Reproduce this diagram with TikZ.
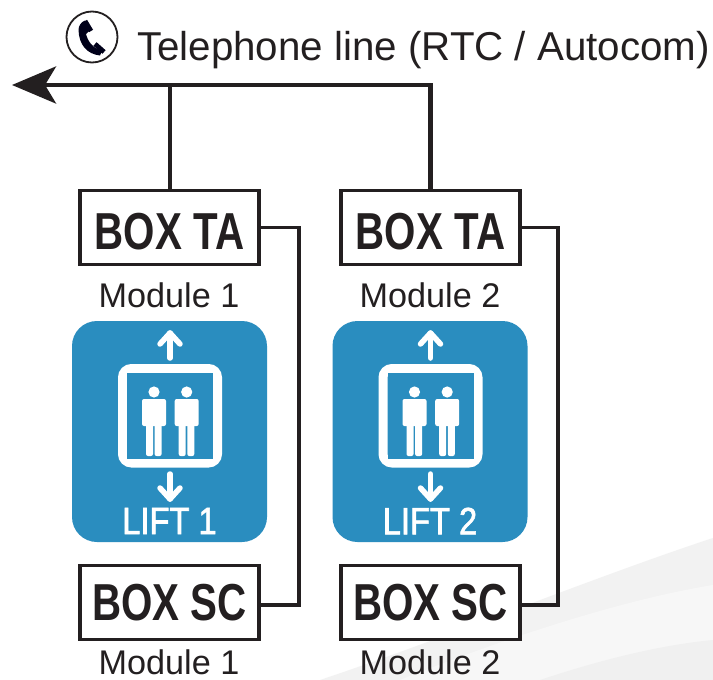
\documentclass[tikz,border=0pt]{standalone}
\usepackage{fontspec}
\setmainfont{Liberation Sans}
\newfontfamily\boxfont[FakeStretch=0.775]{Liberation Sans Bold}
\newfontfamily\liftfont[FakeStretch=0.86,FakeBold=1.6]{Liberation Sans}
\usetikzlibrary{arrows.meta,positioning}
\definecolor{ink}{HTML}{231F20}
\definecolor{liftblue}{HTML}{2A8DBF}
\tikzset{
  x=1pt,y=-1pt,
  boxnode/.style={draw=ink,line width=3.3pt,fill=white,minimum width=179pt,minimum height=74pt,inner sep=0pt,text=ink,font=\boxfont\fontsize{52}{52}\selectfont},
  modlabel/.style={text=ink,inner sep=0pt,font=\fontsize{34.2}{34.2}\selectfont},
  wire/.style={draw=ink,line width=3.3pt},
  trunk/.style={draw=ink,line width=4.6pt},
  panel/.style={fill=liftblue,rounded corners=25pt},
  liftlabel/.style={text=white,inner sep=0pt,font=\liftfont\fontsize{38}{38}\selectfont},
  whitestroke/.style={draw=white,line width=5.5pt,line cap=round,line join=round},
}
\newcommand{\liftpanel}[1]{%
  \fill[panel] (72,321) rectangle (267,542);
  \draw[white,line width=9pt,rounded corners=9pt] (122.5,368.5) rectangle (217.5,463);
  \fill[liftblue] (127,373) rectangle (213,459);
  \foreach \dx in {0,32.7}{
    \begin{scope}[xshift=\dx pt]
      \fill[white] (154,392) circle (5.6);
      \fill[white,rounded corners=2pt] (142,399) rectangle (166,426);
      \fill[white,rounded corners=2pt] (146,420) rectangle (153,456);
      \fill[white,rounded corners=2pt] (154.6,420) rectangle (161.6,456);
    \end{scope}
  }
  \draw[whitestroke] (170,358) -- (170,333);
  \draw[whitestroke] (160,344) -- (170,333) -- (180,344);
  \draw[whitestroke] (170,474) -- (170,499);
  \draw[whitestroke] (160,488) -- (170,499) -- (180,488);
  \node[liftlabel] (liftname#1) at (169.5,521) {LIFT #1};
}
\begin{document}
\begin{tikzpicture}
\useasboundingbox (0,0) rectangle (713,680);
\fill[white] (0,0) rectangle (713,680);
% background swoosh
\fill[black!5] (713,538) .. controls (600,575) and (440,640) .. (320,680) -- (713,680) -- cycle;
\fill[black!3] (713,585) .. controls (620,600) and (500,640) .. (400,680) -- (713,680) -- cycle;
\fill[black!6] (713,640) .. controls (660,645) and (600,660) .. (540,680) -- (713,680) -- cycle;
% phone
\draw[ink,line width=1.8pt,fill=white] (92,37) circle (25.5);
\fill[black!90!blue] (78.5,30) .. controls (79,45) and (87,54) .. (100,55.5)
  -- (102,51) .. controls (93,48) and (88,42) .. (86,34)
  -- (90,30) -- (85,20.5) .. controls (81,22) and (78.5,26) .. (78.5,30) -- cycle;
\draw[black!90!blue,line width=4.8pt] (85,21) -- (91,31);
\draw[black!90!blue,line width=4.8pt] (95,44) -- (104,52);
\node[text=ink,inner sep=0pt,anchor=base west,font=\fontsize{40.3}{40.3}\selectfont] (title) at (137,60) {Telephone line (RTC / Autocom)};
% boxes
\node[boxnode] (ta1) at (169.5,227.5) {\smash{\raisebox{-21.5pt}{BOX TA}}};
\node[boxnode] (ta2) at (430.5,227.5) {\smash{\raisebox{-21.5pt}{BOX TA}}};
\node[boxnode] (sc1) at (169.5,602.5) {\smash{\raisebox{-17.5pt}{BOX SC}}};
\node[boxnode] (sc2) at (430.5,602.5) {\smash{\raisebox{-17.5pt}{BOX SC}}};
\node[modlabel] (m1) at (169,295) {Module 1};
\node[modlabel] (m2) at (430,295) {Module 2};
\node[modlabel] (m3) at (169,662.5) {Module 1};
\node[modlabel] (m4) at (430,662.5) {Module 2};
% lifts
\liftpanel{1}
\begin{scope}[xshift=260.5pt]
\liftpanel{2}
\end{scope}
% connectors
\coordinate (end) at (12,85);
\coordinate (corner) at (430.5,85);
\coordinate (tee) at (169.5,85);
\draw[trunk,-{Stealth[length=44pt,width=37pt,inset=11pt]}] (ta2.north) -- (corner) -- (end);
\draw[wire,line width=4pt] (ta1.north) -- (tee);
\draw[wire] (ta1.east) -- (299,227.5) -- (299,605) -- (sc1.east |- 0,605);
\draw[wire] (ta2.east) -- (558,227.5) -- (558,605) -- (sc2.east |- 0,605);
\end{tikzpicture}
\end{document}
